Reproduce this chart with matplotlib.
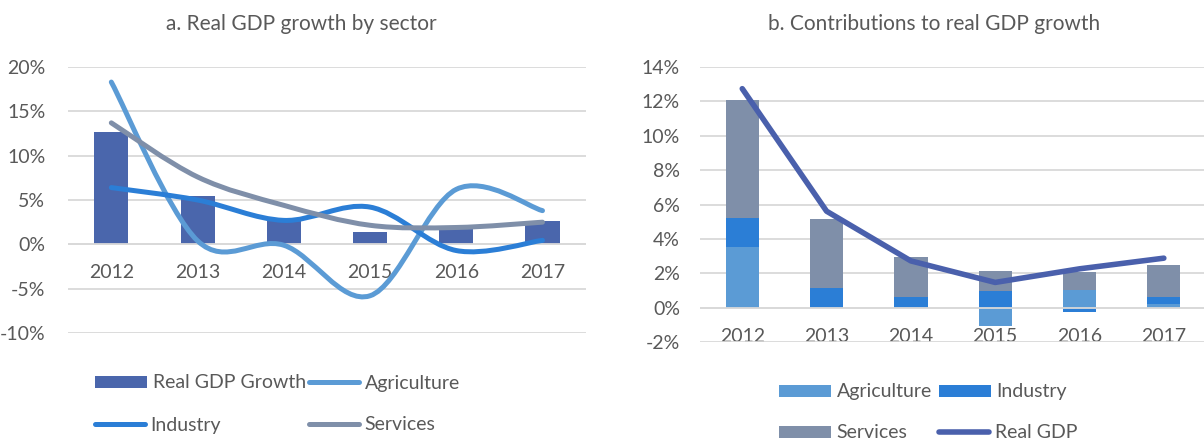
import matplotlib
matplotlib.use("Agg")
import matplotlib.pyplot as plt
import numpy as np
from matplotlib.path import Path
from matplotlib.patches import PathPatch, Patch
from matplotlib.lines import Line2D

# ---------------- data ----------------
years = ["2012", "2013", "2014", "2015", "2016", "2017"]

# panel a: real GDP growth by sector (%)
real_gdp_growth = [12.7, 5.5, 2.7, 1.4, 2.0, 2.6]
agriculture = [18.3, 0.4, -0.1, -5.8, 6.2, 3.8]
industry = [6.4, 5.0, 2.7, 4.2, -0.7, 0.45]
services = [13.7, 7.6, 4.4, 2.15, 1.9, 2.5]
left_yticks = [-10, -5, 0, 5, 10, 15, 20]

# panel b: contributions to real GDP growth (percentage points)
agri_contrib = [3.56, 0.02, 0.02, -1.08, 1.04, 0.20]
industry_contrib = [1.64, 1.15, 0.59, 1.00, -0.21, 0.44]
services_contrib = [6.90, 4.01, 2.37, 1.12, 1.04, 1.86]
real_gdp = [12.74, 5.62, 2.73, 1.48, 2.27, 2.89]
right_yticks = [-2, 0, 2, 4, 6, 8, 10, 12, 14]

# ---------------- style ----------------
W, H = 1204, 443
FONT = "Lato"
TXT = "#595959"
GRID = "#D9D9D9"
C_BAR = "#4A66AC"
C_AGRI = "#5B9BD5"
C_IND = "#2B7ED6"
C_SERV = "#7F8FA9"
C_GDP = "#4A60AC"
FS = 14
FS_TITLE = 15

plt.rcParams["font.family"] = [FONT, "DejaVu Sans"]

fig = plt.figure(figsize=(W / 100, H / 100), dpi=100)


def px_axes(x0, x1, ytop, ybot):
    return fig.add_axes([x0 / W, 1 - ybot / H, (x1 - x0) / W, (ybot - ytop) / H])


def smooth_path(xs, ys):
    pts = np.column_stack([xs, ys]).astype(float)
    n = len(pts)
    verts = [pts[0]]
    codes = [Path.MOVETO]
    for i in range(n - 1):
        p0 = pts[i - 1] if i > 0 else pts[i]
        p1 = pts[i]
        p2 = pts[i + 1]
        p3 = pts[i + 2] if i + 2 < n else pts[i + 1]
        c1 = p1 + (p2 - p0) / 6.0
        c2 = p2 - (p3 - p1) / 6.0
        verts += [c1, c2, p2]
        codes += [Path.CURVE4] * 3
    return Path(verts, codes)


def style_axes(ax, yticks, ylim, ypad):
    ax.set_ylim(*ylim)
    ax.set_xlim(-0.5, len(years) - 0.5)
    ax.set_yticks(yticks)
    ax.set_yticklabels([f"{v}%" for v in yticks])
    ax.set_xticks(range(len(years)))
    ax.set_xticklabels(years)
    for s in ax.spines.values():
        s.set_visible(False)
    ax.spines["bottom"].set_position(("data", 0))
    ax.tick_params(axis="both", length=0, labelsize=FS, labelcolor=TXT)
    ax.tick_params(axis="y", pad=ypad)
    ax.tick_params(axis="x", pad=14.5)
    ax.yaxis.grid(True, color=GRID, lw=1.3)
    ax.set_axisbelow(True)
    ax.patch.set_alpha(0)
    ax.axhline(0, color=GRID, lw=1.3, zorder=2.5)


x = np.arange(len(years))

# ---------------- panel a ----------------
ax1 = px_axes(68.2, 585.6, 67, 333)
style_axes(ax1, left_yticks, (-10, 20), 16.5)
ax1.bar(x, real_gdp_growth, width=0.395, color=C_BAR, zorder=2)
for vals, col in [(agriculture, C_AGRI), (industry, C_IND), (services, C_SERV)]:
    pp = PathPatch(smooth_path(x, vals), fill=False, edgecolor=col, lw=3.6,
                   capstyle="round", joinstyle="round", zorder=3)
    ax1.add_patch(pp)

fig.text(301 / W, 1 - 29.5 / H, "a. Real GDP growth by sector", ha="center",
         va="baseline", fontsize=FS_TITLE, color=TXT)

# ---------------- panel b ----------------
ax2 = px_axes(700.1, 1206.0, 67, 342.3)
style_axes(ax2, right_yticks, (-2, 14), 14.5)
pos_base = np.zeros(len(years))
neg_base = np.zeros(len(years))
for vals, col in [(agri_contrib, C_AGRI), (industry_contrib, C_IND), (services_contrib, C_SERV)]:
    v = np.array(vals, dtype=float)
    bottoms = np.where(v >= 0, pos_base, neg_base)
    ax2.bar(x, v, bottom=bottoms, width=0.395, color=col, zorder=2)
    pos_base = pos_base + np.where(v >= 0, v, 0)
    neg_base = neg_base + np.where(v < 0, v, 0)
ax2.plot(x, real_gdp, color=C_GDP, lw=4.0, solid_capstyle="round",
         solid_joinstyle="round", zorder=3)

fig.text(933.7 / W, 1 - 29.5 / H, "b. Contributions to real GDP growth", ha="center",
         va="baseline", fontsize=FS_TITLE, color=TXT)

# ---------------- legends ----------------
def leg(handle, label, xpx, ypx, hl):
    lg = fig.legend(handles=[handle], labels=[label], loc="center left",
                    bbox_to_anchor=(xpx / W, 1 - ypx / H), frameon=False,
                    borderpad=0, borderaxespad=0, handlelength=hl,
                    handleheight=0.58, handletextpad=0.28, fontsize=FS,
                    labelcolor=TXT)
    return lg


def line_h(c, lw=3.6):
    return Line2D([], [], color=c, lw=lw, solid_capstyle="round")


leg(Patch(facecolor=C_BAR), "Real GDP Growth", 95, 383, 2.68)
leg(line_h(C_AGRI), "Agriculture", 309, 383, 2.58)
leg(line_h(C_IND), "Industry", 95, 425, 2.58)
leg(line_h(C_SERV), "Services", 309, 425, 2.58)

leg(Patch(facecolor=C_AGRI), "Agriculture", 779, 392, 2.68)
leg(Patch(facecolor=C_IND), "Industry", 939, 392, 2.68)
leg(Patch(facecolor=C_SERV), "Services", 779, 433, 2.68)
leg(line_h(C_GDP, 4.0), "Real GDP", 939, 433, 2.58)

fig.savefig("out.png", dpi=100)
